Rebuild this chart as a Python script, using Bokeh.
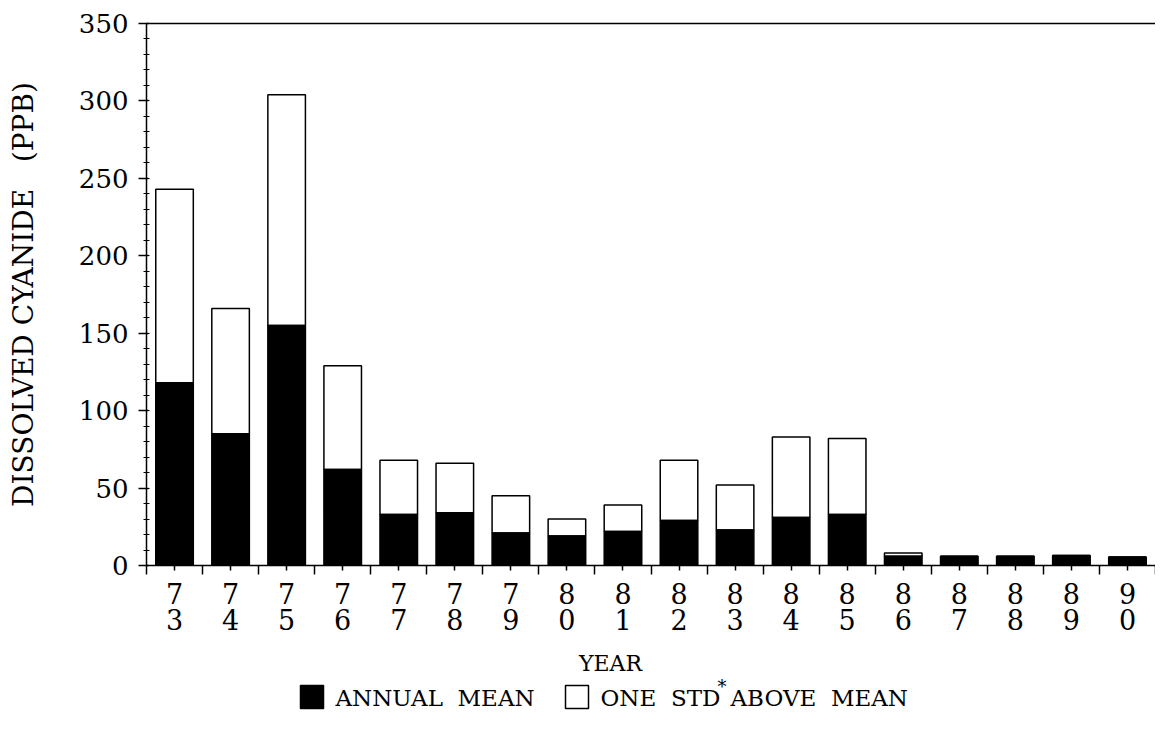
from bokeh.plotting import figure
from bokeh.layouts import column
from bokeh.models import (FixedTicker, SingleIntervalTicker, LinearAxis, Range1d,
                          ColumnDataSource)
from bokeh.core.properties import value
from bokeh.embed import file_html
from bokeh.resources import INLINE

years = ["73", "74", "75", "76", "77", "78", "79", "80", "81", "82",
         "83", "84", "85", "86", "87", "88", "89", "90"]
annual_mean = [118, 85, 155, 62, 33, 34, 21, 19, 22, 29, 23, 31, 33, 6, 6, 6, 6.5, 5.5]
one_std_above = [243, 166, 304, 129, 68, 66, 45, 30, 39, 68, 52, 83, 82, 8, 6, 6, 6.5, 5.5]

FONT = "DejaVu Serif"
NB = "\u00a0"
W = 1155
LEFT = 146
H_MAIN = 650
H_LEG = 65

xs = list(range(len(years)))
src = ColumnDataSource(dict(x=xs, mean=annual_mean, upper=one_std_above))

p = figure(width=W, height=H_MAIN, output_backend="svg", toolbar_location=None,
           x_range=Range1d(-0.5, len(years) - 0.5), y_range=Range1d(0, 350),
           min_border_left=LEFT, min_border_right=0, min_border_top=23,
           min_border_bottom=H_MAIN - 565, x_axis_location=None, y_axis_location=None)
p.grid.visible = False
p.outline_line_color = None
p.background_fill_color = "white"
p.border_fill_color = "white"

p.vbar(x="x", bottom="mean", top="upper", width=0.67, source=src,
       fill_color="white", line_color="black", line_width=1.5)
p.vbar(x="x", top="mean", width=0.67, source=src,
       fill_color="black", line_color="black", line_width=1.5)

# y axis
yax = LinearAxis(ticker=SingleIntervalTicker(interval=50, num_minor_ticks=5))
yax.axis_label = "DISSOLVED" + NB + "CYANIDE" + NB * 3 + "(PPB)"
yax.axis_label_text_font = FONT
yax.axis_label_text_font_style = "normal"
yax.axis_label_text_font_size = "28px"
yax.axis_label_text_color = "black"
yax.axis_label_standoff = 36
yax.major_label_text_font = FONT
yax.major_label_text_font_size = "26px"
yax.major_label_text_color = "black"
yax.major_label_standoff = 10
yax.major_tick_out = 8
yax.major_tick_in = 2
yax.minor_tick_out = 3
yax.minor_tick_in = 3
yax.axis_line_width = 1.5
yax.major_tick_line_width = 1.5
p.add_layout(yax, "left")

# x axis
bounds = [i - 0.5 for i in range(len(years) + 1)]
xax = LinearAxis(ticker=FixedTicker(ticks=xs, minor_ticks=bounds))
xax.major_label_overrides = {i: y[0] + "\n" + y[1] for i, y in enumerate(years)}
xax.major_label_text_font = FONT
xax.major_label_text_font_size = "27px"
xax.major_label_text_color = "black"
xax.major_label_text_line_height = 0.85
xax.major_label_standoff = 4
xax.major_tick_out = 5
xax.major_tick_in = 0
xax.minor_tick_out = 9
xax.minor_tick_in = 0
xax.axis_line_width = 1.5
xax.major_tick_line_width = 1.5
xax.minor_tick_line_width = 1.5
p.add_layout(xax, "below")

# top border line
tax = LinearAxis(ticker=FixedTicker(ticks=[]))
tax.major_label_text_font_size = "0px"
tax.major_tick_out = 0
tax.minor_tick_out = 0
tax.axis_line_width = 1.5
p.add_layout(tax, "above")

# strip below: x-axis title and legend; its frame is aligned with the plot frame,
# so its x range is set to canvas pixels
q = figure(width=W, height=H_LEG, output_backend="svg", toolbar_location=None,
           x_range=Range1d(LEFT, W), y_range=Range1d(H_LEG, 0),
           min_border=0, x_axis_location=None, y_axis_location=None)
q.grid.visible = False
q.outline_line_color = None
q.border_fill_color = "white"
q.background_fill_color = "white"

TOP0 = H_MAIN  # canvas y of strip top


def t(text, x, y, size, align="left"):
    q.text(x=[x], y=[y - TOP0], text=[text], text_font=value(FONT),
           text_font_size=value(size), text_color="black",
           text_align=align, text_baseline="middle")


LY = 697
t("YEAR", 610, 663, "22px", align="center")
q.quad(left=[300], right=[323], top=[LY - 12 - TOP0], bottom=[LY + 11 - TOP0],
       fill_color="black", line_color="black", line_width=1.5)
t("ANNUAL" + NB * 2 + "MEAN", 335, LY, "23px")
q.quad(left=[565], right=[588], top=[LY - 12 - TOP0], bottom=[LY + 11 - TOP0],
       fill_color="white", line_color="black", line_width=1.5)
t("ONE" + NB * 2 + "STD", 600, LY, "23px")
t("*", 717, LY - 11, "18px")
t("ABOVE" + NB * 2 + "MEAN", 730, LY, "23px")

open("out.html", "w").write(file_html(column(p, q, spacing=0), INLINE))
